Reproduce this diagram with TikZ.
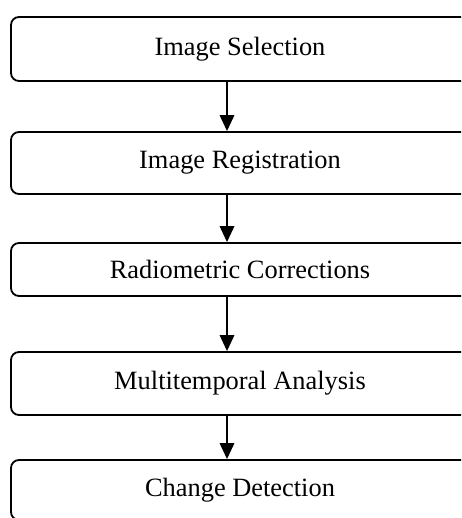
\documentclass[tikz,border=0pt]{standalone}
\usepackage{fontspec}
\setmainfont{Liberation Serif}
\usetikzlibrary{arrows.meta}

\begin{document}
\begin{tikzpicture}[x=1pt,y=-1pt,>={Triangle[length=16pt,width=14.5pt]},line width=1.8pt]
        \tikzset{stage/.style={draw, rectangle, rounded corners=8pt, minimum width=458pt, inner sep=0pt, font=\fontsize{26.4}{30}\selectfont}}
        \clip (0,0) rectangle (461,518);
        \node (selection) [stage, minimum height=64pt] at (240,49) {Image Selection};
        \node (registration) [stage, minimum height=62pt] at (240,163) {Image Registration};
        \node (radiometric) [stage, minimum height=53pt] at (240,269.5) {Radiometric Corrections};
        \node (multitemporal) [stage, minimum height=63pt] at (240,383.5) {Multitemporal Analysis};
        \node (change) [stage, minimum height=60pt] at (240,490) {Change Detection};

        % arrows run a bit left of the box centres
        \coordinate (col) at (227,0);
        \draw[->] (selection.south -| col) -- (registration.north -| col);
        \draw[->] (registration.south -| col) -- (radiometric.north -| col);
        \draw[->] (radiometric.south -| col) -- (multitemporal.north -| col);
        \draw[->] (multitemporal.south -| col) -- (change.north -| col);
    \end{tikzpicture}
\end{document}
